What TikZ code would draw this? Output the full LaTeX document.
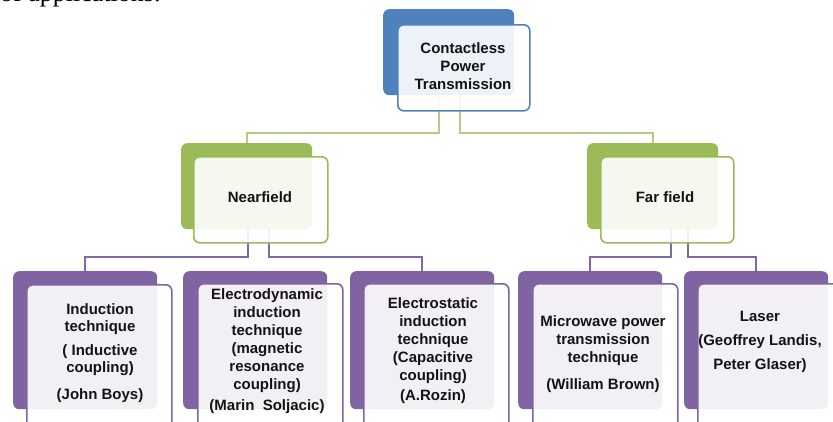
\documentclass[tikz,border=0pt]{standalone}
\usepackage{fontspec}
\setmainfont{Liberation Sans}
\newfontfamily\paperfont{Liberation Serif}
\definecolor{blueA}{HTML}{4F81BD}
\definecolor{greenA}{HTML}{9BBB59}
\definecolor{purpA}{HTML}{8064A2}
\definecolor{greenL}{HTML}{B3CB82}
\definecolor{purpL}{HTML}{8068A6}
\begin{document}
\begin{tikzpicture}[x=1pt,y=-1pt,
  backbox/.style={draw=none, fill=#1, rounded corners=6pt, anchor=north west, inner sep=0pt},
  frontbox/.style={draw=#1, line width=1.6pt, fill=white, fill opacity=0.9, rounded corners=6pt, anchor=north west, inner sep=0pt},
  lbl/.style={font=\bfseries\fontsize{15}{18}\selectfont, align=center, inner sep=0pt, text=black!92},
  gline/.style={draw=greenL, line width=2pt},
  pline/.style={draw=purpL, line width=2pt},
  topw/.style={minimum width=131pt, minimum height=86pt},
  botw/.style={minimum width=144pt, minimum height=138pt},
  botf/.style={minimum width=145pt, minimum height=150pt}
]
\useasboundingbox (0,0) rectangle (833,421);
\node[font=\paperfont\fontsize{26}{30}\selectfont, anchor=base west, inner sep=0pt] (frag) at (0,1) {of applications.};
% back boxes
\node[backbox=blueA, topw] (tb) at (383,9) {};
\node[backbox=greenA, topw] (nb) at (181,143) {};
\node[backbox=greenA, topw] (fb) at (587,143) {};
\node[backbox=purpA, botw] (b1) at (13,271) {};
\node[backbox=purpA, botw] (b2) at (183,271) {};
\node[backbox=purpA, botw] (b3) at (350,271) {};
\node[backbox=purpA, botw] (b4) at (518,271) {};
\node[backbox=purpA, botw] (b5) at (684,271) {};
% connectors
\draw[gline] ([xshift=-10pt]tb.south) -- ++(0,38) -| (nb.north);
\draw[gline] ([xshift=11pt]tb.south) -- ++(0,38) -| (fb.north);
\draw[pline] ([xshift=1pt]nb.south) -- ++(0,28) -| (b1.north);
\draw[pline] ([xshift=22pt]nb.south) -- ++(0,28) -| (b3.north);
\draw[pline] ([xshift=18pt]fb.south) -- ++(0,28) -| (b4.north);
\draw[pline] ([xshift=35pt]fb.south) -- ++(0,28) -| (b5.north);
% front boxes
\node[frontbox=blueA, minimum width=132pt, minimum height=86pt] (tf) at (397,24) {};
\node[frontbox=greenA, minimum width=134pt, minimum height=86pt] (nf) at (193,156) {};
\node[frontbox=greenA, minimum width=133pt, minimum height=86pt] (ff) at (600,156) {};
\node[frontbox=purpA, botf] (f1) at (26,284) {};
\node[frontbox=purpA, botf] (f2) at (197,283) {};
\node[frontbox=purpA, botf] (f3) at (363,283) {};
\node[frontbox=purpA, botf] (f4) at (532,283) {};
\node[frontbox=purpA, botf] (f5) at (697,283) {};
% labels
\node[lbl] (t0) at (463,66) {Contactless\\Power\\Transmission};
\node[lbl] (t1) at (260,197) {Nearfield};
\node[lbl] (t2) at (665,197) {Far field};
\node[lbl, font=\bfseries\fontsize{15}{17}\selectfont] (l1) at (100,353) {Induction\\technique\\[7pt]( Inductive\\coupling)\\[10pt](John Boys)};
\node[lbl] (l2) at (267,351) {Electrodynamic\\induction\\technique\\(magnetic\\resonance\\coupling)\\[3pt](Marin\ \ Soljacic)};
\node[lbl] (l3) at (433,351) {Electrostatic\\induction\\technique\\(Capacitive\\coupling)\\[2pt](A.Rozin)};
\node[lbl] (l4) at (603,354) {Microwave power\\transmission\\technique\\[9pt](William Brown)};
\node[lbl] (l5) at (760,342) {Laser\\[6pt](Geoffrey Landis,\\[6pt]Peter Glaser)};
\end{tikzpicture}
\end{document}
